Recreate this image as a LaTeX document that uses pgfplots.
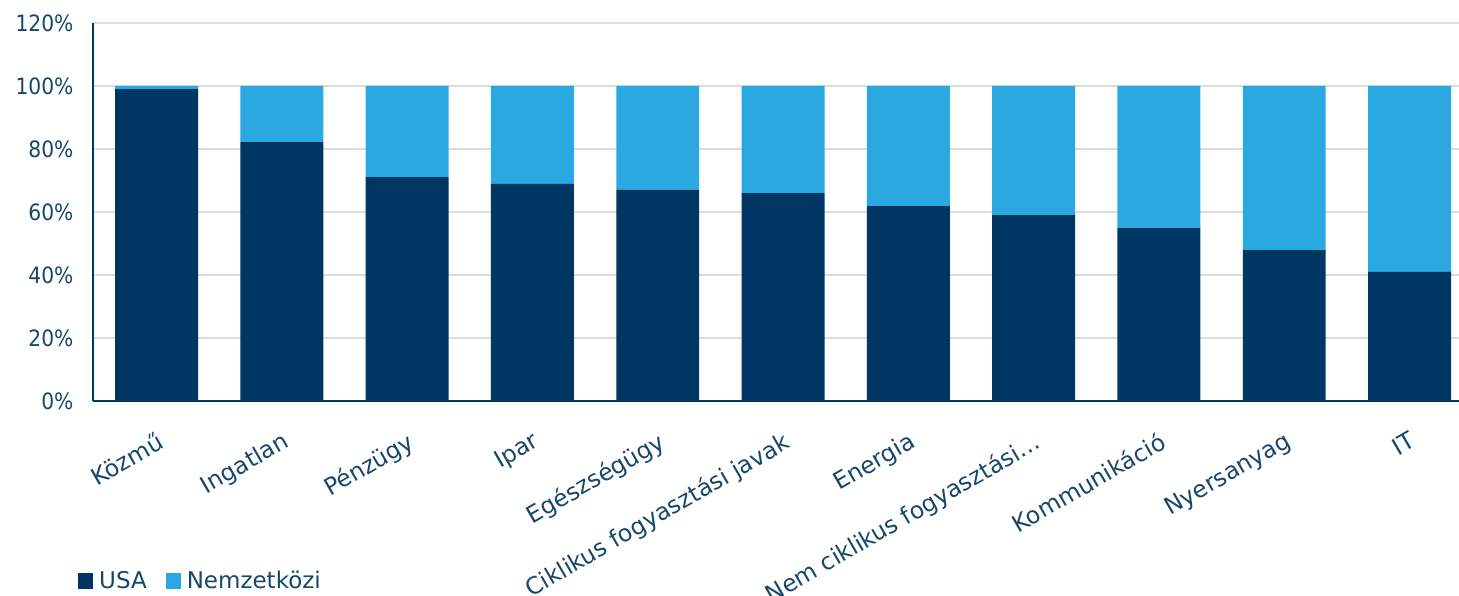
\documentclass[border=0pt]{standalone}
\usepackage{pgfplots}
\pgfplotsset{compat=1.18}
\usepackage{fontspec}
\setmainfont{DejaVu Sans}
\newfontfamily\condfont{DejaVu Sans Condensed}
\definecolor{dkblue}{HTML}{003663}
\definecolor{ltblue}{HTML}{29A9E0}
\definecolor{txt}{HTML}{17466B}
\definecolor{grd}{HTML}{DCDCDC}
\begin{document}
\begin{tikzpicture}
\useasboundingbox (0,0) rectangle (1459pt,595pt);
\begin{axis}[
  at={(93pt,194pt)}, anchor=south west,
  scale only axis, width=1366pt, height=378pt,
  ybar stacked, bar width=0.662,
  xmin=-0.507, xmax=10.395,
  ymin=0, ymax=120,
  ytick={0,20,...,120},
  yticklabel={\pgfmathprintnumber{\tick}\%},
  /pgf/number format/assume math mode=true,
  xtick=data,
  xticklabels={Közmű,Ingatlan,Pénzügy,Ipar,Egészségügy,Ciklikus fogyasztási javak,Energia,Nem ciklikus fogyasztási\ldots,Kommunikáció,Nyersanyag,IT},
  x tick label style={rotate=30, anchor=north east, font=\fontsize{23.5}{27}\selectfont, text=txt, yshift=-22pt, xshift=-12pt},
  y tick label style={font=\condfont\fontsize{22.5}{26}\selectfont, text=txt, xshift=-16pt},
  major tick length=0pt,
  axis x line*=bottom, axis y line*=left,
  axis line style={dkblue, line width=1.6pt, -},
  ymajorgrids, grid style={grd, line width=1.4pt},
  clip=false,
  legend columns=2,
  legend style={at={(-0.011,-0.476)}, anchor=west, draw=none, fill=none,
    font=\fontsize{23}{27}\selectfont, text=txt, inner sep=0pt,
    /tikz/every odd column/.append style={column sep=4pt},
    /tikz/every even column/.append style={column sep=17pt}},
  legend cell align=left,
  legend image code/.code={\fill[#1] (0pt,-8pt) rectangle (15pt,8pt);},
]
\addplot[fill=dkblue, draw=none] coordinates {(0,99) (1,82.2) (2,71.1) (3,68.9) (4,67) (5,66) (6,61.9) (7,59) (8,54.9) (9,47.9) (10,41)};
\addplot[fill=ltblue, draw=none] coordinates {(0,1) (1,17.8) (2,28.9) (3,31.1) (4,33) (5,34) (6,38.1) (7,41) (8,45.1) (9,52.1) (10,59)};
\legend{USA,Nemzetközi}
\end{axis}
\end{tikzpicture}
\end{document}
